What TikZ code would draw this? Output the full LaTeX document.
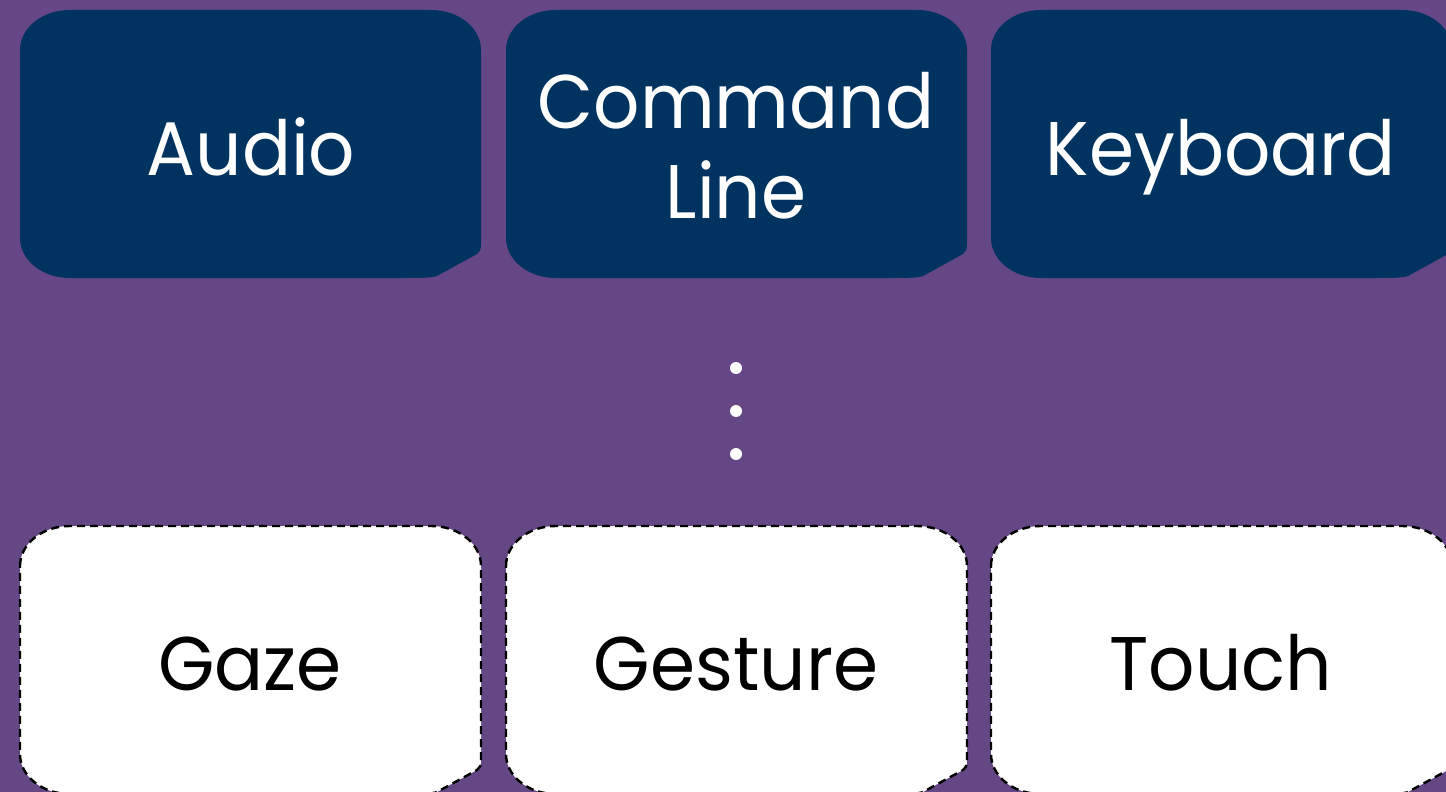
\documentclass[tikz,border=0pt]{standalone}
\usepackage{fontspec}
\setmainfont{Poppins}[FakeStretch=0.955]
\definecolor{bgpurple}{HTML}{644784}
\definecolor{navy}{HTML}{00335F}
\newcommand\snipboxpath[2]{%
 (#1,#2+40) .. controls (#1,#2+18) and (#1+22,#2) .. (#1+50,#2)
 -- (#1+411,#2) .. controls (#1+439,#2) and (#1+461,#2+18) .. (#1+461,#2+40)
 -- (#1+461,#2+233) .. controls (#1+461,#2+240) and (#1+460,#2+242) .. (#1+457,#2+244)
 -- (#1+417,#2+266) .. controls (#1+412,#2+268) and (#1+400,#2+268) .. (#1+380,#2+268)
 -- (#1+50,#2+268) .. controls (#1+22,#2+268) and (#1,#2+250) .. (#1,#2+228) -- cycle}
\tikzset{
  topbox/.style={fill=navy},
  botbox/.style={fill=white, draw=black, line width=2.4pt, dash pattern=on 8pt off 5pt},
  toplabel/.style={text=white, font=\fontsize{76}{90}\selectfont, align=center, anchor=base, inner sep=0pt},
  botlabel/.style={text=black, font=\fontsize{76}{90}\selectfont, anchor=base, inner sep=0pt},
  dot/.style={circle, fill=white, inner sep=0pt, minimum size=12pt}
}
\begin{document}
\begin{tikzpicture}[x=1pt,y=-1pt]
\useasboundingbox (0,0) rectangle (1446,792);
\clip (0,0) rectangle (1446,792);
\fill[bgpurple] (0,0) rectangle (1446,792);
\fill[topbox] \snipboxpath{20}{10};
\fill[topbox] \snipboxpath{506}{10};
\fill[topbox] \snipboxpath{991}{10};
\path[botbox] \snipboxpath{20}{526};
\path[botbox] \snipboxpath{506}{526};
\path[botbox] \snipboxpath{991}{526};
\node[toplabel] (audio) at (251,175) {Audio};
\node[toplabel] (cmd) at (736,218) {Command\\Line};
\node[toplabel] (kbd) at (1221,175) {Keyboard};
\node[dot] (d1) at (736,368) {};
\node[dot] (d2) at (736,411) {};
\node[dot] (d3) at (736,454) {};
\node[botlabel] (gaze) at (250,690) {Gaze};
\node[botlabel] (gesture) at (736,690) {Gesture};
\node[botlabel] (touch) at (1221,690) {Touch};
\end{tikzpicture}
\end{document}
